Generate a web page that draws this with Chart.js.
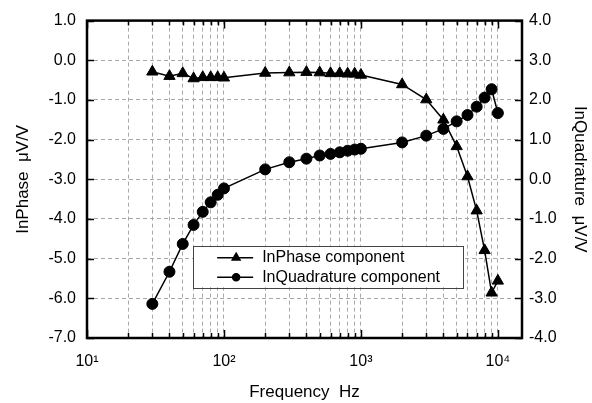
<!DOCTYPE html>
<html>
<head>
<meta charset="utf-8">
<script src="https://cdn.jsdelivr.net/npm/chart.js@4"></script>
<style>
  html, body { margin: 0; padding: 0; background: #fff; }
  #wrap { width: 592px; height: 403px; }
</style>
</head>
<body>
<div id="wrap"><canvas id="c" width="592" height="403"></canvas></div>
<script>
// Frequencies (Hz)
const freqs = [30, 40, 50, 60, 70, 80, 90, 100, 200, 300, 400, 500, 600, 700, 800, 900,
	1000, 2000, 3000, 4000, 5000, 6000, 7000, 8000, 9000, 10000];
// InPhase component (uV/V, left axis)
const inPhase = [-0.29, -0.40, -0.33, -0.46, -0.43, -0.43, -0.43, -0.44, -0.32, -0.31, -0.30, -0.31,
	-0.33, -0.33, -0.34, -0.34, -0.37, -0.61, -0.99, -1.50, -2.17, -2.93, -3.79, -4.79, -5.86, -5.56];
// InQuadrature component (uV/V, right axis)
const inQuad = [-3.14, -2.33, -1.63, -1.15, -0.82, -0.58, -0.39, -0.23, 0.25, 0.43, 0.52, 0.60,
	0.64, 0.68, 0.72, 0.75, 0.77, 0.93, 1.10, 1.27, 1.46, 1.62, 1.83, 2.06, 2.27, 1.67];

// Tick labels
const decades = [10, 100, 1000, 10000];
const decadeLabels = ['10\u00B9', '10\u00B2', '10\u00B3', '10\u2074'];
const minorSteps = [1, 2, 3, 4, 5, 6, 7, 8, 9];
const leftTicks = [-7, -6, -5, -4, -3, -2, -1, 0, 1];
const rightTicks = [-4, -3, -2, -1, 0, 1, 2, 3, 4];

const xTicks = [];
decades.forEach(function(d){
	minorSteps.forEach(function(m){
		if (d * m <= 10000) xTicks.push(d * m);
	});
});

const FONT = 'Liberation Sans, Arial, sans-serif';

// Frame, inward tick marks and boxed legend
const framePlugin = {
	id: 'frame',
	beforeDatasetsDraw: function(chart) {
		const ctx = chart.ctx;
		const a = chart.chartArea;
		const xs = chart.scales.x, yl = chart.scales.y, yr = chart.scales.y1;
		ctx.save();
		ctx.strokeStyle = '#000';
		ctx.lineWidth = 1.5;
		ctx.beginPath();
		xTicks.forEach(function(v){
			const px = Math.round(xs.getPixelForValue(v)) + 0.5;
			const len = decades.indexOf(v) >= 0 ? 8 : 5;
			ctx.moveTo(px, a.bottom); ctx.lineTo(px, a.bottom - len);
			ctx.moveTo(px, a.top); ctx.lineTo(px, a.top + len);
		});
		leftTicks.forEach(function(v){
			const py = Math.round(yl.getPixelForValue(v)) + 0.5;
			ctx.moveTo(a.left, py); ctx.lineTo(a.left + 7, py);
		});
		rightTicks.forEach(function(v){
			const py = Math.round(yr.getPixelForValue(v)) + 0.5;
			ctx.moveTo(a.right, py); ctx.lineTo(a.right - 7, py);
		});
		ctx.stroke();
		ctx.lineWidth = 2.5;
		ctx.strokeRect(a.left, a.top, a.right - a.left, a.bottom - a.top);
		ctx.restore();
	},
	afterDatasetsDraw: function(chart) {
		const ctx = chart.ctx;
		const a = chart.chartArea;
		const w = a.right - a.left, h = a.bottom - a.top;
		const bx = a.left + w * 0.244, by = a.top + h * 0.709;
		const bw = w * 0.62, bh = h * 0.131;
		ctx.save();
		ctx.fillStyle = '#fff';
		ctx.fillRect(bx, by, bw, bh);
		ctx.strokeStyle = '#444';
		ctx.lineWidth = 1;
		ctx.strokeRect(Math.round(bx) + 0.5, Math.round(by) + 0.5, Math.round(bw), Math.round(bh));
		const rows = [
			{ label: 'InPhase component', style: 'triangle', r: 4.5 },
			{ label: 'InQuadrature component', style: 'circle', r: 3.5 }
		];
		rows.forEach(function(row, i){
			const cy = by + 12 + i * 19.5;
			ctx.strokeStyle = '#000';
			ctx.lineWidth = 1.5;
			ctx.beginPath();
			ctx.moveTo(bx + 24, cy); ctx.lineTo(bx + 60, cy);
			ctx.stroke();
			ctx.fillStyle = '#000';
			Chart.helpers.drawPoint(ctx, { pointStyle: row.style, radius: row.r, borderWidth: 1, rotation: 0 }, bx + 43, cy);
			ctx.fill();
			ctx.font = '16px ' + FONT;
			ctx.textBaseline = 'middle';
			ctx.textAlign = 'left';
			ctx.fillText(row.label, bx + 69, cy);
		});
		ctx.restore();
	}
};

new Chart(document.getElementById('c'), {
	type: 'line',
	data: {
		labels: freqs,
		datasets: [{
			label: 'InPhase component',
			data: freqs.map(function(f, i){ return { x: f, y: inPhase[i] }; }),
			yAxisID: 'y',
			borderColor: '#000',
			backgroundColor: '#000',
			borderWidth: 1.5,
			pointStyle: 'triangle',
			pointRadius: 6.5,
			pointBorderWidth: 1,
			tension: 0
		}, {
			label: 'InQuadrature component',
			data: freqs.map(function(f, i){ return { x: f, y: inQuad[i] }; }),
			yAxisID: 'y1',
			borderColor: '#000',
			backgroundColor: '#000',
			borderWidth: 1.5,
			pointStyle: 'circle',
			pointRadius: 5.5,
			pointBorderWidth: 1,
			tension: 0
		}]
	},
	options: {
		responsive: false,
		animation: false,
		events: [],
		layout: { padding: { top: 18, left: 0, right: 0, bottom: 0 } },
		plugins: {
			legend: { display: false },
			tooltip: { enabled: false }
		},
		scales: {
			x: {
				type: 'logarithmic',
				min: 10,
				max: 15000,
				afterBuildTicks: function(scale){
					scale.ticks = xTicks.map(function(v){ return { value: v }; });
				},
				afterFit: function(scale){ scale.height = 65; },
				border: { display: false, dash: [4, 3] },
				grid: { color: '#a8a8a8', lineWidth: 1, drawTicks: false },
				ticks: {
					autoSkip: false,
					maxRotation: 0,
					padding: 14,
					color: '#000',
					font: { family: FONT, size: 16 },
					callback: function(v){
						const i = decades.indexOf(v);
						return i >= 0 ? decadeLabels[i] : '';
					}
				},
				title: {
					display: true,
					text: 'Frequency  Hz',
					color: '#000',
					font: { family: FONT, size: 17 },
					padding: { top: 1, bottom: 0 }
				}
			},
			y: {
				position: 'left',
				min: -7,
				max: 1,
				afterBuildTicks: function(scale){
					scale.ticks = leftTicks.map(function(v){ return { value: v }; });
				},
				afterFit: function(scale){ scale.width = 87; },
				border: { display: false, dash: [4, 3] },
				grid: { color: '#a8a8a8', lineWidth: 1, drawTicks: false },
				ticks: {
					padding: 11,
					color: '#000',
					font: { family: FONT, size: 16 },
					callback: function(v){ return v.toFixed(1); }
				},
				title: {
					display: true,
					text: 'InPhase  \u03BCV/V',
					color: '#000',
					font: { family: FONT, size: 17 },
					padding: { top: 13, bottom: 0 }
				}
			},
			y1: {
				position: 'right',
				min: -4,
				max: 4,
				afterBuildTicks: function(scale){
					scale.ticks = rightTicks.map(function(v){ return { value: v }; });
				},
				afterFit: function(scale){ scale.width = 70; },
				border: { display: false },
				grid: { display: false, drawTicks: false },
				ticks: {
					padding: 7,
					color: '#000',
					font: { family: FONT, size: 16 },
					callback: function(v){ return v.toFixed(1); }
				},
				title: {
					display: true,
					text: 'InQuadrature  \u03BCV/V',
					color: '#000',
					font: { family: FONT, size: 17 },
					padding: { top: 2, bottom: 0 }
				}
			}
		}
	},
	plugins: [framePlugin]
});
</script>
</body>
</html>
